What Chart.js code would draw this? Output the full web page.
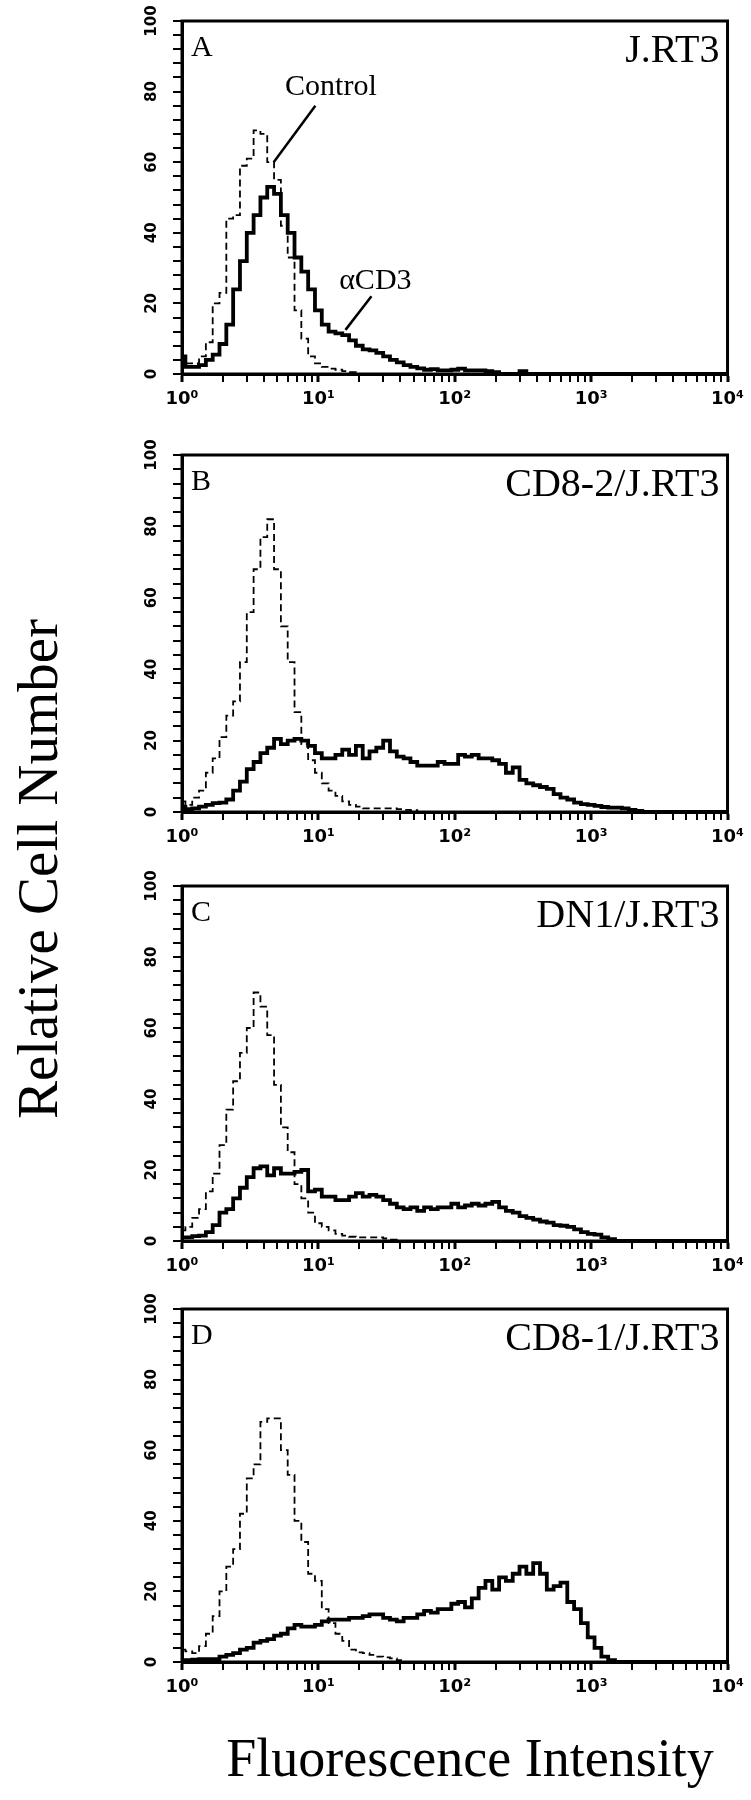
<!DOCTYPE html>
<html><head><meta charset="utf-8">
<script src="https://cdn.jsdelivr.net/npm/chart.js@4.4.1/dist/chart.umd.min.js"></script>
<style>
html,body{margin:0;padding:0;background:#fff;}
body{width:751px;height:1800px;position:relative;overflow:hidden;}
.panel{position:absolute;left:110px;}
canvas{display:block;}
#ytitle{position:absolute;left:37px;top:869px;transform:translate(-50%,-50%) rotate(-90deg);font-family:'Liberation Serif',serif;font-size:57px;white-space:nowrap;line-height:1;}
#xtitle{position:absolute;left:470px;top:1758px;transform:translate(-50%,-50%);font-family:'Liberation Serif',serif;font-size:54px;white-space:nowrap;line-height:1;}
</style></head>
<body>
<div id="ytitle">Relative Cell Number</div>
<div id="xtitle">Fluorescence Intensity</div>
<script>
// ---- data (one value per 1/20-decade channel, starting at 10^0) ----
const binsPerDecade = 20;
const aControl = [5,3,3,5,9,20,23,44,45,59,61,69,68,60,55,42,33,18,10,5,3,2,1.5,1.2,0.8,0.5,0,0,0,0,0,0,0,0,0,0,0,0,0,0,0,0,0,0,0,0,0,0,0,0,0,0,0,0,0,0,0,0,0,0,0,0,0,0,0,0,0,0,0,0,0,0,0,0,0,0,0,0,0,0,0];
const aCD3 = [5,2,2,2.5,4,5.5,8.5,14,24,32,40,45,50,53,51,45,40,33,29,24,18,14,12,11.5,11,9.5,8,7,6.7,6,5,4,3.3,2.5,2,1.6,1.2,1.4,1,1,1.2,1.5,1,1,1,0.8,0.5,0,0,0,0.8,0,0,0,0,0,0,0,0,0,0,0,0,0,0,0,0,0,0,0,0,0,0,0,0,0,0,0,0,0,0];
const bControl = [3,2,4,6,11,15,21,27,31,42,56,68,77,82,68,52,42,28,19,14.5,11,8,6,4.5,3,2,1.5,1,1,1,1,1,0.8,0.6,0.5,0,0,0,0,0,0,0,0,0,0,0,0,0,0,0,0,0,0,0,0,0,0,0,0,0,0,0,0,0,0,0,0,0,0,0,0,0,0,0,0,0,0,0,0,0,0];
const bCD3 = [1.5,0.8,1,1.5,2,2.5,2.6,3.5,6,8.5,12,14,16.5,18,20.5,19,20,20.5,20,18.5,16.5,15,15,16,17.5,16,18.5,15,17,18,20,17,15.5,15,14,13,13,13,14,13.5,13.5,16,15.5,16,15,15,14.5,13.5,11,12.5,9,8,7.5,7,6.5,5,4,3.5,2.6,2.2,2,1.7,1.4,1.2,1.2,1,0.6,0.3,0,0,0,0,0,0,0,0,0,0,0,0,0];
const cControl = [3,4,6.5,9,14,19,27,37,45,53,60,70,66,58,44,32,25,16,12,8,5,4,3,2,1.5,1.2,1,1,1,1,0.7,0.4,0,0,0,0,0,0,0,0,0,0,0,0,0,0,0,0,0,0,0,0,0,0,0,0,0,0,0,0,0,0,0,0,0,0,0,0,0,0,0,0,0,0,0,0,0,0,0,0,0];
const cCD3 = [1,1,1.4,1.5,2.5,4.5,8,9,12,15,18,20.5,21,18.5,20.5,19,19,19.5,20,14,14.5,12.5,12.5,11.5,11.5,12.5,13.5,12.5,13,12.5,11.5,10.5,9.5,9,9.5,8.5,9.5,9,9.5,9.5,10.5,9.5,10,10.5,10,10.5,11,9.5,8.5,8,7,6.5,6,5.5,5.2,4.5,4.3,4,3.3,2.5,2,1.8,1,0.5,0,0,0,0,0,0,0,0,0,0,0,0,0,0,0,0,0];
const dControl = [3.5,3,2.5,4.5,8,13,20,27,32,42,52,56,68,69,69,60,53,40,34,25,23,15,11,8,6,3.5,2.7,2.5,2,1.5,1.3,1,0.5,0,0,0,0,0,0,0,0,0,0,0,0,0,0,0,0,0,0,0,0,0,0,0,0,0,0,0,0,0,0,0,0,0,0,0,0,0,0,0,0,0,0,0,0,0,0,0,0];
const dCD3 = [0.3,0.5,0.7,0.8,0.8,0.8,1.5,2,2.5,3.5,4,5.5,6,6.5,7.5,8,9.5,10.5,10,10,10.5,11.5,12,12,12,12.5,12.5,13,13.5,13.5,12.5,12,11.5,12.5,12.5,13.5,14.5,14,15,15,16.5,17,15.5,18,21,23,20.5,24,23,25,27,25,28,25,20.5,21.5,22.5,17,15,11,7,4,1.5,0.5,0,0,0,0,0,0,0,0,0,0,0,0,0,0,0,0,0];

const panelLetters = ['A','B','C','D'];
const panelTitles = ['J.RT3','CD8-2/J.RT3','DN1/J.RT3','CD8-1/J.RT3'];
const controlSeries = [aControl, bControl, cControl, dControl];
const cd3Series = [aCD3, bCD3, cCD3, dCD3];

const xTickValues = [1,2,3,4,5,6,7,8,9,10,20,30,40,50,60,70,80,90,100,200,300,400,500,600,700,800,900,1000,2000,3000,4000,5000,6000,7000,8000,9000,10000];
const decadeValues = [1,10,100,1000,10000];
const decadeLabels = ['10\u2070','10\u00B9','10\u00B2','10\u00B3','10\u2074'];
const yLabelValues = [0,20,40,60,80,100];

// annotations of panel A (data coordinates; text left-aligned at tx)
const annotationsA = [
  {text:'Control', tx:5.7, ty:79, x1:9.5, y1:76, x2:4.7, y2:60},
  {text:'\u03B1CD3', tx:14.2, ty:24, x1:24.5, y1:22, x2:15.8, y2:12.5}
];

// ---- layout (pixels) ----
const plotBoxes = [[21,374],[455,812],[886,1241],[1309,1662]];
const padTop = 22, xAxisH = 50, yAxisW = 72, padRight = 23, canvasW = 641;

const decor = {
  id:'decor',
  afterDatasetsDraw(chart, args, opts){
    const {ctx, chartArea:a, scales:{x,y}} = chart;
    ctx.save();
    ctx.strokeStyle='#000'; ctx.lineWidth=3;
    ctx.strokeRect(a.left, a.top, a.right-a.left, a.bottom-a.top);
    ctx.fillStyle='#000'; ctx.textBaseline='alphabetic';
    ctx.font='30px "Liberation Serif"'; ctx.textAlign='left';
    ctx.fillText(opts.letter, a.left+9, a.top+35);
    ctx.font='40px "Liberation Serif"'; ctx.textAlign='right';
    ctx.fillText(opts.title, a.right-8, a.top+41);
    (opts.notes||[]).forEach(n=>{
      ctx.font='30px "Liberation Serif"'; ctx.textAlign='left';
      ctx.fillText(n.text, x.getPixelForValue(n.tx), y.getPixelForValue(n.ty));
      ctx.lineWidth=2.5; ctx.beginPath();
      ctx.moveTo(x.getPixelForValue(n.x1), y.getPixelForValue(n.y1));
      ctx.lineTo(x.getPixelForValue(n.x2), y.getPixelForValue(n.y2));
      ctx.stroke();
    });
    ctx.restore();
  }
};

function toPoints(vals){ return vals.map((v,i)=>({x:Math.pow(10,i/binsPerDecade), y:v})); }

const tickFontX = {family:"'DejaVu Sans','Liberation Sans',Arial", size:18, weight:'bold'};
const tickFontY = {family:"'DejaVu Sans','Liberation Sans',Arial", size:15, weight:'bold'};

plotBoxes.forEach((box,p)=>{
  const h = box[1]-box[0] + padTop + xAxisH;
  const div = document.createElement('div');
  div.className='panel';
  div.style.top = (box[0]-padTop)+'px';
  const cv = document.createElement('canvas');
  cv.width = canvasW; cv.height = h;
  cv.style.width = canvasW+'px'; cv.style.height = h+'px';
  div.appendChild(cv); document.body.appendChild(div);
  new Chart(cv, {
    type:'line',
    data:{datasets:[
      {label:'Control', data:toPoints(controlSeries[p]), borderColor:'#000', borderWidth:1.8, borderDash:[7,4], pointRadius:0, stepped:'middle', fill:false},
      {label:'\u03B1CD3', data:toPoints(cd3Series[p]), borderColor:'#000', borderWidth:3.8, pointRadius:0, stepped:'middle', fill:false}
    ]},
    options:{
      responsive:false, animation:false, devicePixelRatio:1,
      layout:{padding:{top:padTop, right:padRight, left:0, bottom:0}},
      plugins:{legend:{display:false}, tooltip:{enabled:false},
        decor:{letter:panelLetters[p], title:panelTitles[p], notes: p===0 ? annotationsA : []}},
      scales:{
        x:{type:'logarithmic', min:1, max:10000,
          afterBuildTicks:(s)=>{ s.ticks = xTickValues.map(v=>({value:v, major: decadeValues.includes(v)})); },
          afterFit:(s)=>{ s.height = xAxisH; },
          border:{display:true, color:'#000', width:3},
          grid:{display:true, drawOnChartArea:false, drawTicks:true, tickLength:8, color:'#000',
                tickWidth:(c)=> decadeValues.includes(c.tick && c.tick.value) ? 3 : 2, lineWidth:2},
          ticks:{autoSkip:false, maxRotation:0, minRotation:0, padding:7, color:'#000', font:tickFontX,
                 callback:(v)=>{ const k = decadeValues.indexOf(v); return k>=0 ? decadeLabels[k] : ''; }}
        },
        y:{type:'linear', min:0, max:100,
          afterFit:(s)=>{ s.width = yAxisW; },
          border:{display:true, color:'#000', width:3},
          grid:{display:true, drawOnChartArea:false, drawTicks:true, tickLength:9, color:'#000', lineWidth:2},
          ticks:{stepSize:4, autoSkip:false, minRotation:90, maxRotation:90, crossAlign:'center', padding:5, color:'#000',
                 font:tickFontY,
                 callback:(v)=> yLabelValues.includes(v) ? String(v) : ''}
        }
      }
    },
    plugins:[decor]
  });
});
</script>
</body></html>
